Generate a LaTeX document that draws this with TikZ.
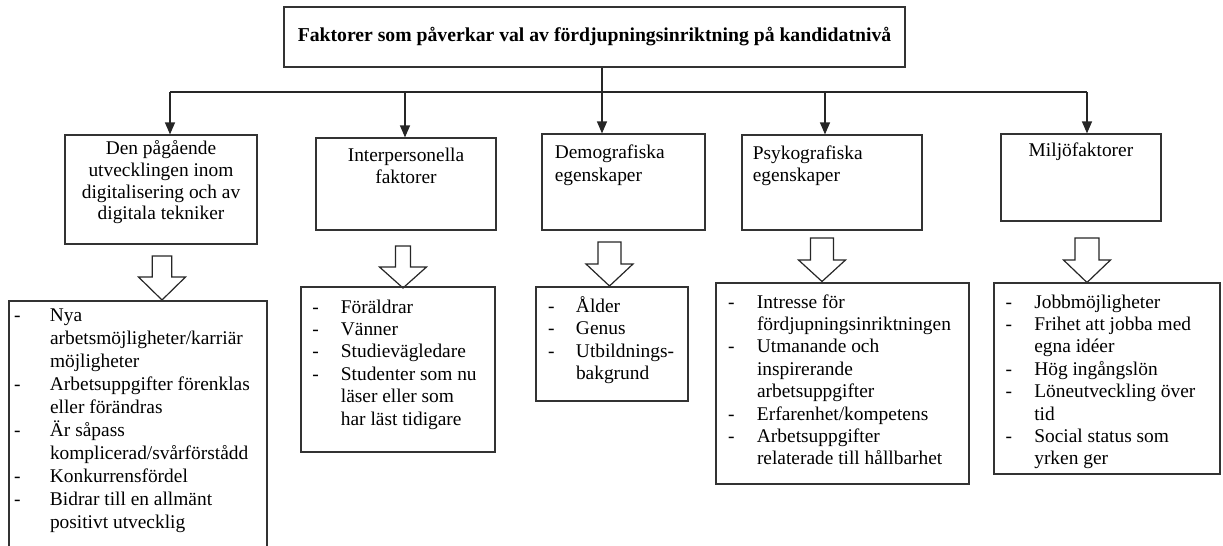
\documentclass[tikz,border=0pt]{standalone}
\usepackage{fontspec}
\setmainfont{Liberation Serif}
\usetikzlibrary{positioning,arrows.meta}

% hollow block arrow: centre x, top, neck, tip, half stem width
\newcommand{\blockpil}[5]{%
  \draw[ihalpil] (#1-#5,#2) -- (#1+#5,#2) -- (#1+#5,#3) -- (#1+23.5,#3)
    -- (#1,#4) -- (#1-23.5,#3) -- (#1-#5,#3) -- cycle;}

\begin{document}
\begin{tikzpicture}[x=0.5pt, y=-0.5pt,
  ruta/.style={draw=black!80, line width=0.6pt, inner sep=0pt},
  brodtext/.style={font=\fontsize{9.7pt}{11.2pt}\selectfont, inner sep=0pt},
  linje/.style={draw=black!85, line width=0.6pt},
  pil/.style={linje, -{Triangle[width=5pt,length=6pt]}},
  ihalpil/.style={draw=black!85, line width=0.6pt, fill=white}]
\useasboundingbox (0,0) rectangle (1223,546);
\clip (0,0) rectangle (1223,546);

% Title box
\node[ruta, minimum width=310.5pt, minimum height=30pt,
  font=\bfseries\fontsize{9.85pt}{11.2pt}\selectfont] (titel) at (594.5,37)
  {Faktorer som påverkar val av fördjupningsinriktning på kandidatnivå};

% The five factor boxes
\node[ruta, minimum width=96pt, minimum height=54.5pt] (digi) at (161,189.5) {};
\node[ruta, minimum width=90pt, minimum height=46pt] (inter) at (406,184) {};
\node[ruta, minimum width=81.5pt, minimum height=48pt] (demo) at (623.5,182) {};
\node[ruta, minimum width=90pt, minimum height=47.5pt] (psyko) at (832,182.5) {};
\node[ruta, minimum width=80pt, minimum height=43.5pt] (miljo) at (1081,177.5) {};

\node[brodtext, font=\fontsize{9.7pt}{10.9pt}\selectfont, below=2.2pt of digi.north] (digitext)
  {\begin{tabular}{@{}c@{}}Den pågående\\utvecklingen inom\\digitalisering och av\\digitala tekniker\end{tabular}};
\node[brodtext, below=4pt of inter.north] (intertext)
  {\begin{tabular}{@{}c@{}}Interpersonella\\faktorer\end{tabular}};
\node[brodtext, below right=4.65pt and 6.5pt of demo.north west] (demotext)
  {\begin{tabular}{@{}l@{}}Demografiska\\egenskaper\end{tabular}};
\node[brodtext, below right=4.3pt and 5.5pt of psyko.north west] (psykotext)
  {\begin{tabular}{@{}l@{}}Psykografiska\\egenskaper\end{tabular}};
\node[brodtext, below=4.65pt of miljo.north] (miljotext) {Miljöfaktorer};

% Connectors from the title
\coordinate (k1) at (170,92);
\coordinate (k2) at (405,92);
\coordinate (k3) at (602,92);
\coordinate (k4) at (825,92);
\coordinate (k5) at (1087,92);
\draw[linje] (titel.south -| k3) -- (k3);
\draw[linje] (k1) -- (k5);
\foreach \k/\b in {k1/digi, k2/inter, k3/demo, k4/psyko, k5/miljo}
  \draw[pil] (\k) -- (\k |- \b.north);

% Hollow arrows down to the lists
\blockpil{162}{256}{277}{300}{9.7}
\blockpil{403}{246}{267}{288}{7.5}
\blockpil{609.5}{242}{264}{286}{11.5}
\blockpil{822}{238}{260}{281.5}{11.5}
\blockpil{1087}{238}{260}{282.5}{12}

% The lists
\node[ruta, minimum width=129pt, minimum height=129.5pt] (lista1) at (138,430.5) {};
\node[ruta, minimum width=97pt, minimum height=82.5pt] (lista2) at (398,369.5) {};
\node[ruta, minimum width=76pt, minimum height=57pt] (lista3) at (612,344) {};
\node[ruta, minimum width=126.5pt, minimum height=100.5pt] (lista4) at (842.5,383.5) {};
\node[ruta, minimum width=113pt, minimum height=95.5pt] (lista5) at (1107,378.5) {};

\node[brodtext, font=\fontsize{9.7pt}{11.5pt}\selectfont,
  below right=2.3pt and 2.6pt of lista1.north west] (lista1text)
  {\begin{tabular}{@{}p{18pt}@{}l@{}}
  - & Nya\\
    & arbetsmöjligheter/karriär\\
    & möjligheter\\
  - & Arbetsuppgifter förenklas\\
    & eller förändras\\
  - & Är såpass\\
    & komplicerad/svårförstådd\\
  - & Konkurrensfördel\\
  - & Bidrar till en allmänt\\
    & positivt utvecklig
  \end{tabular}};
\node[brodtext, below right=5.3pt and 5.75pt of lista2.north west] (lista2text)
  {\begin{tabular}{@{}p{14.3pt}@{}l@{}}
  - & Föräldrar\\
  - & Vänner\\
  - & Studievägledare\\
  - & Studenter som nu\\
    & läser eller som\\
    & har läst tidigare
  \end{tabular}};
\node[brodtext, below right=4.8pt and 6.1pt of lista3.north west] (lista3text)
  {\begin{tabular}{@{}p{14pt}@{}l@{}}
  - & Ålder\\
  - & Genus\\
  - & Utbildnings-\\
    & bakgrund
  \end{tabular}};
\node[brodtext, below right=4.8pt and 6.1pt of lista4.north west] (lista4text)
  {\begin{tabular}{@{}p{14.5pt}@{}l@{}}
  - & Intresse för\\
    & fördjupningsinriktningen\\
  - & Utmanande och\\
    & inspirerande\\
    & arbetsuppgifter\\
  - & Erfarenhet/kompetens\\
  - & Arbetsuppgifter\\
    & relaterade till hållbarhet
  \end{tabular}};
\node[brodtext, below right=4.8pt and 5.95pt of lista5.north west] (lista5text)
  {\begin{tabular}{@{}p{14.3pt}@{}l@{}}
  - & Jobbmöjligheter\\
  - & Frihet att jobba med\\
    & egna idéer\\
  - & Hög ingångslön\\
  - & Löneutveckling över\\
    & tid\\
  - & Social status som\\
    & yrken ger
  \end{tabular}};
\end{tikzpicture}
\end{document}
